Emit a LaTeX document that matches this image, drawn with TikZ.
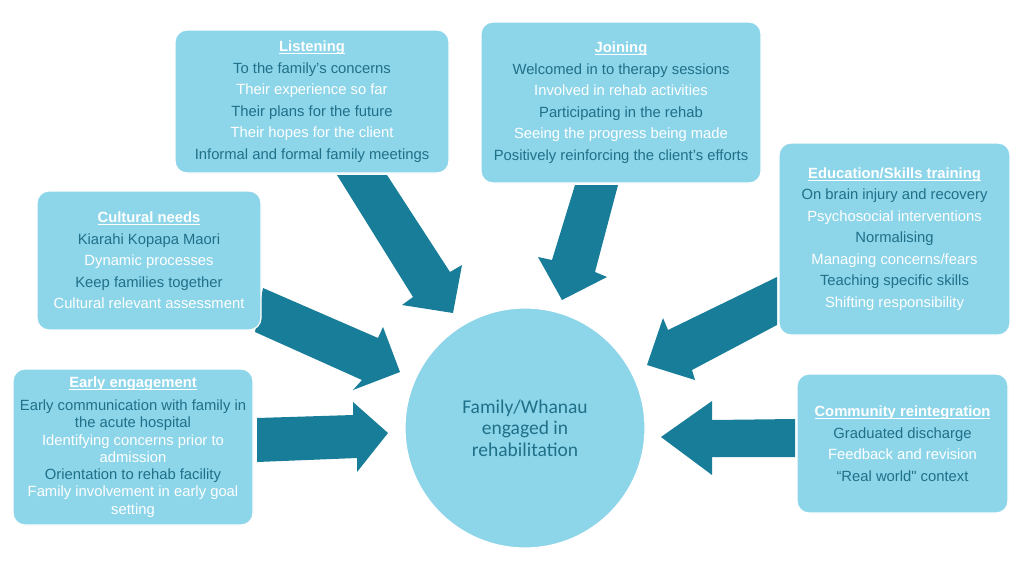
\documentclass[tikz,border=0pt]{standalone}
\usepackage{fontspec}
\setmainfont{Liberation Sans}
\newfontfamily\calibfont{Carlito}
\newfontfamily\plainquote{Liberation Sans}[Ligatures=TeXOff]
\definecolor{boxblue}{RGB}{141,213,233}
\definecolor{dktext}{RGB}{31,112,137}
\definecolor{arrowc}{RGB}{24,125,152}
\newcommand\boxtitle[1]{\textcolor{white}{\bfseries\setbox0\hbox{#1}\rlap{\rule[-2.4pt]{\wd0}{1.1pt}}\box0}}
\newcommand\wline[1]{\textcolor{white}{#1}}
\begin{document}
\begin{tikzpicture}[x=1pt,y=-1pt,
  infobox/.style={draw=white, line width=1.2pt, fill=boxblue, rounded corners=12pt,
    align=center, inner sep=0pt, text=dktext, font=\fontsize{14.8}{21.5}\selectfont},
  blockarrow/.style={fill=arrowc, draw=none}]
\useasboundingbox (0,0) rectangle (1024,576);
\fill[white] (0,0) rectangle (1024,576);

% block arrows
\fill[blockarrow] (337,175) -- (387,175) -- (450,272) -- (462,265) -- (453,313) -- (402,305) -- (413,297) -- cycle;
\fill[blockarrow] (575,185) -- (618,185) -- (595,272) -- (607,277) -- (562,300) -- (538,257) -- (552,260) -- cycle;
\fill[blockarrow] (777,277) -- (668,330) -- (663,318) -- (647,365) -- (695,380) -- (692,370) -- (777,325) -- cycle;
\fill[blockarrow] (263,288) -- (378,338) -- (383,327) -- (400,372) -- (353,390) -- (362,380) -- (255,332) -- cycle;
\fill[blockarrow] (257,418) -- (353,415) -- (353,402) -- (388,433) -- (357,472) -- (357,458) -- (257,462) -- cycle;
\fill[blockarrow] (795,419) -- (712,420) -- (712,401) -- (661,437) -- (712,475) -- (712,457) -- (795,457) -- cycle;

% boxes
\node[infobox, minimum width=274pt, minimum height=143pt] (listen) at (312,101.5) {%
\boxtitle{Listening}\\
To the family’s concerns\\
\wline{Their experience so far}\\
Their plans for the future\\
\wline{Their hopes for the client}\\
Informal and formal family meetings};

\node[infobox, minimum width=280pt, minimum height=161pt] (join) at (621,102.5) {%
\boxtitle{Joining}\\
Welcomed in to therapy sessions\\
\wline{Involved in rehab activities}\\
Participating in the rehab\\
\wline{Seeing the progress being made}\\
Positively reinforcing the client’s efforts};

\node[infobox, minimum width=231pt, minimum height=192pt] (edu) at (894.5,239) {%
\boxtitle{Education/Skills training}\\
On brain injury and recovery\\
\wline{Psychosocial interventions}\\
Normalising\\
\wline{Managing concerns/fears}\\
Teaching specific skills\\
\wline{Shifting responsibility}};

\node[infobox, minimum width=224pt, minimum height=139pt] (cult) at (149,260.5) {%
\boxtitle{Cultural needs}\\
Kiarahi Kopapa Maori\\
\wline{Dynamic processes}\\
Keep families together\\
\wline{Cultural relevant assessment}};

\node[infobox, minimum width=240pt, minimum height=156pt, font=\fontsize{14.8}{17.3}\selectfont] (early) at (133,447) {%
\boxtitle{Early engagement}\\[5.7pt]
Early communication with family in\\
the acute hospital\\
\wline{Identifying concerns prior to}\\
\wline{admission}\\
Orientation to rehab facility\\
\wline{Family involvement in early goal}\\
\wline{setting}};

\node[infobox, minimum width=211pt, minimum height=139pt] (comm) at (902.5,443.5) {%
\boxtitle{Community reintegration}\\
Graduated discharge\\
\wline{Feedback and revision}\\
“Real world{\plainquote"} context};

% centre
\node[circle, draw=white, line width=1.2pt, fill=boxblue, minimum size=240pt, inner sep=0pt,
  align=center, text=dktext, font=\calibfont\fontsize{19.5}{21.5}\selectfont] (core) at (525,428)
  {Family/Whanau\\engaged in\\rehabilitation};
\end{tikzpicture}
\end{document}
